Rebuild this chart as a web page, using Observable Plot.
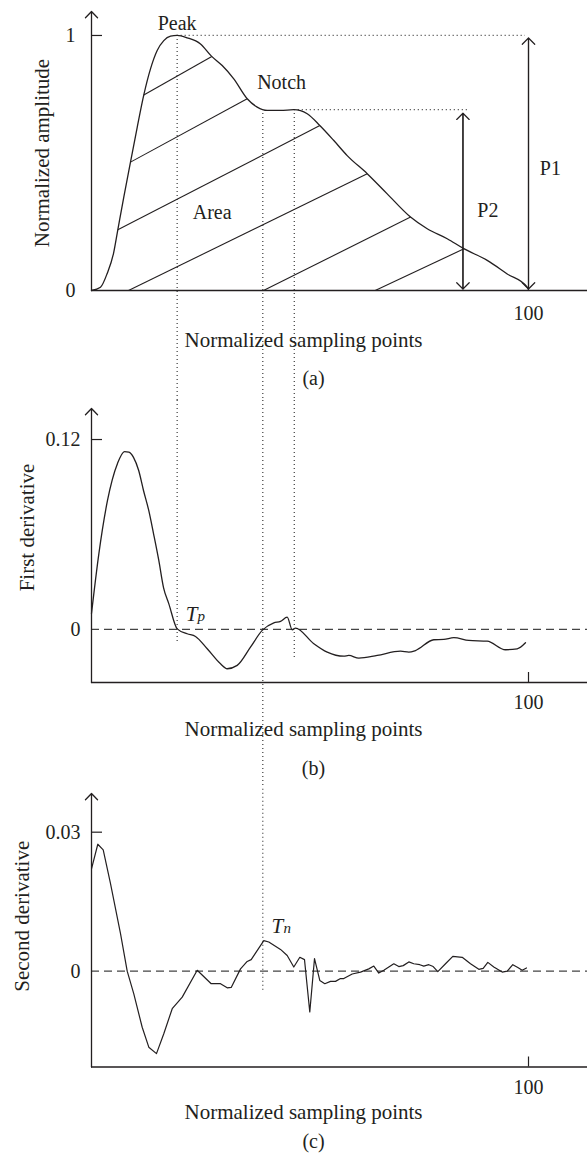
<!DOCTYPE html>
<html>
<head>
<meta charset="utf-8">
<script src="https://cdn.jsdelivr.net/npm/d3@7"></script>
<script src="https://cdn.jsdelivr.net/npm/@observablehq/plot@0.6"></script>
<style>
  html, body { margin: 0; padding: 0; background: #fff; }
  #chart { width: 587px; }
  #chart svg { display: block; overflow: hidden; }
</style>
</head>
<body>
<div id="chart"></div>
<script>
// ---------- data ----------
// Panel (a): normalized pulse waveform
const samplingA = [0, 2.06, 3.59, 5.03, 6.02, 7.39, 8.92, 10.46, 11.97, 13.5, 15.03, 16.54, 18.08, 19.61, 21.9, 24.94, 27.39, 29.91, 32.56, 35.63, 37.92, 40.21, 43.25, 46.29, 49.36, 52.24, 55.45, 58.51, 63.09, 67.67, 73.0, 76.82, 81.4, 85.19, 90.55, 95.13, 99.7, 100];
const amplitudeA = [0, 0.013, 0.067, 0.145, 0.238, 0.366, 0.503, 0.64, 0.767, 0.869, 0.941, 0.98, 0.997, 1.0, 0.991, 0.967, 0.92, 0.882, 0.83, 0.752, 0.719, 0.706, 0.706, 0.709, 0.693, 0.647, 0.588, 0.529, 0.458, 0.379, 0.288, 0.242, 0.203, 0.164, 0.118, 0.065, 0.013, 0.003];

// Panel (b): first derivative
const samplingB = [0, 1.68, 3.66, 5.95, 7.55, 8.54, 9.61, 10.8, 11.9, 13.1, 14.19, 15.4, 16.48, 17.7, 19.61, 21.9, 23.8, 26.48, 29.52, 31.05, 33.34, 36.38, 39.06, 41.72, 43.25, 44.78, 45.93, 46.68, 50.8, 53.94, 57.73, 58.88, 61.17, 65.38, 70.71, 72.61, 74.14, 78.33, 80.62, 82.91, 86.34, 90.55, 94.74, 97.41, 99.31];
const firstDeriv = [0.0101, 0.0478, 0.0815, 0.1049, 0.1124, 0.112, 0.1087, 0.1004, 0.0878, 0.0752, 0.0606, 0.0436, 0.0265, 0.0162, 0.0004, -0.0027, -0.0044, -0.0122, -0.0217, -0.0248, -0.0227, -0.0112, -0.0006, 0.0042, 0.0051, 0.0078, -0.0002, 0.0009, -0.0088, -0.0143, -0.0169, -0.0164, -0.0181, -0.0164, -0.0137, -0.0143, -0.0133, -0.0065, -0.0063, -0.0052, -0.0069, -0.0074, -0.0128, -0.0122, -0.0084];

// Panel (c): second derivative
const samplingC = [0, 1.44, 2.68, 4.35, 6.64, 8.17, 9.68, 11.6, 13.11, 14.87, 16.54, 18.47, 20.76, 24.19, 27.39, 29.52, 31.05, 31.97, 34.1, 35.63, 36.54, 39.43, 40.57, 43.25, 44.78, 46.29, 47.67, 48.74, 49.95, 51.03, 52.24, 53.39, 54.69, 55.84, 56.98, 57.73, 59.66, 61.56, 63.46, 64.6, 65.74, 66.89, 69.18, 70.32, 71.33, 72.61, 73.75, 75.13, 76.04, 77.19, 78.19, 79.25, 81.01, 82.68, 84.83, 86.73, 88.63, 89.63, 90.69, 92.06, 93.98, 95.13, 96.41, 97.55, 98.56, 99.54];
const secondDeriv = [0.0221, 0.0274, 0.0262, 0.0189, 0.0081, 0, -0.0049, -0.0121, -0.0164, -0.0178, -0.0135, -0.0081, -0.0056, 0.0002, -0.0027, -0.0027, -0.0036, -0.0035, 0.0005, 0.0021, 0.0025, 0.0066, 0.0063, 0.0047, 0.0034, 0.0009, 0.003, 0.0025, -0.0088, 0.0027, -0.002, -0.0027, -0.0022, -0.0022, -0.0016, -0.0016, -0.0006, -0.0002, 0.0005, 0.0011, -0.0004, 0.0002, 0.0016, 0.001, 0.0012, 0.002, 0.0016, 0.0014, 0.0011, 0.0014, 0.001, -0.0001, 0.0016, 0.0032, 0.003, 0.0016, 0.0004, 0.0006, 0.0019, 0.0009, -0.0002, 0, 0.0014, 0.0008, 0.0002, 0.0007];

// Hatching of the area under the pulse: intercept with baseline (x) and slope
const hatchIntercepts = [-66.8, -45.15, -20.89, 8.47, 39.36, 64.92];
const hatchSlopes = [0.00973, 0.00931, 0.00884, 0.00838, 0.00855, 0.00805];

// Feature points
const peakX = 19.6, peakY = 1;
const notchX = 39.2, notchEndX = 46.4, notchY = 0.709;
const dropStartA = [1, 0.694, 0.694];           // where the dotted drop lines begin in (a)
const dropEndB = [-0.0088, null, -0.019];        // where they end in (b) (null: continue)
const dropEndC = [-0.0042];                      // notch line ends in (c)
const peakLineEndX = 99.3, notchLineEndX = 86.3;
const p1 = {x: 100, y1: 0.006, y2: 0.99};
const p2 = {x: 85, y1: 0.006, y2: 0.695};

// Axis ticks
const xTicks = [100];
const yTicksA = [0, 1];
const yTicksB = [0, 0.12];
const yTicksC = [0, 0.03];

// Annotations of (a)
const annotationsA = [
  {label: "Peak", x: 19.6, y: 1.046},
  {label: "Notch", x: 43.5, y: 0.817},
  {label: "Area", x: 27.6, y: 0.307},
  {label: "P1", x: 105.0, y: 0.477},
  {label: "P2", x: 90.7, y: 0.314}
];

// ---------- helpers ----------
const ink = "#231f20";
const dotInk = "#3a3a3a";
const serif = "'Liberation Serif', 'Times New Roman', serif";
const W = 587, ML = 91;
const xDomain = [0, 113.5], xTip = 115;

function toRows(xs, ys) { return xs.map((x, i) => ({x, y: ys[i]})); }

function hatchSegment(xs, ys, x0, s) {
  const f = (i) => ys[i] - s * (xs[i] - x0);
  let start = x0 >= 0 ? x0 : null, end = null;
  for (let i = 0; i < xs.length - 1; i++) {
    const a = f(i), b = f(i + 1);
    const t = a / (a - b);
    const xc = xs[i] + t * (xs[i + 1] - xs[i]);
    if (start === null) {
      if (a < 0 && b >= 0) start = xc;
    } else if (a >= 0 && b < 0 && xc > start) { end = xc; break; }
  }
  if (start === null || end === null) return null;
  return {x1: start, y1: s * (start - x0), x2: end, y2: s * (end - x0)};
}

function panel(o) {
  const frameW = W - ML;
  const frameH = o.height - o.marginTop - o.marginBottom;
  const yMin = o.yDomain[0], yMax = o.yDomain[1];
  return Plot.plot({
    width: W, height: o.height,
    marginLeft: ML, marginRight: 0, marginTop: o.marginTop, marginBottom: o.marginBottom,
    x: {domain: xDomain, axis: null},
    y: {domain: o.yDomain, axis: null},
    style: {fontFamily: serif, fontSize: "20px", color: ink, background: "white", overflow: "hidden"},
    marks: [
      ...o.marks,
      // axes with arrows
      Plot.arrow([0], {x1: 0, x2: 0, y1: yMin, y2: yMax, stroke: ink, strokeWidth: 1.3, headLength: 10, headAngle: 88}),
      Plot.arrow([0], {x1: 0, x2: xTip, y1: yMin, y2: yMin, stroke: ink, strokeWidth: 1.3, headLength: 10, headAngle: 88}),
      Plot.tickY(o.yTicks.filter((d) => d !== 0), {y: (d) => d, insetRight: frameW - 11, stroke: ink, strokeWidth: 1.2}),
      Plot.text(o.yTicks, {x: 0, y: (d) => d, text: (d) => String(d), textAnchor: "end", dx: o.tickGap, fontSize: 20, fill: ink}),
      o.xTickMark ? Plot.tickX(xTicks, {x: (d) => d, insetTop: frameH - 10, stroke: ink, strokeWidth: 1.2}) : null,
      Plot.text(xTicks, {x: (d) => d, y: yMin, text: (d) => String(d), dy: o.xTickDy, fontSize: 20, fill: ink}),
      Plot.text([o.yLabel], {frameAnchor: "left", textAnchor: "middle", text: (d) => d, rotate: -90, dx: o.yLabelDx, dy: o.yLabelDy, fontSize: 21, fill: ink}),
      Plot.text(["Normalized sampling points"], {frameAnchor: "bottom", textAnchor: "middle", text: (d) => d, dx: -36, dy: o.xLabelDy, fontSize: 21, fill: ink}),
      Plot.text([o.caption], {frameAnchor: "bottom", textAnchor: "middle", text: (d) => d, dx: -26, dy: o.captionDy, fontSize: 20, fill: ink})
    ]
  });
}

const far = 50; // drop lines run past the panel edge; the SVG clips them
const dot = {stroke: dotInk, strokeWidth: 1.2, strokeDasharray: "1,3"};
const dash = {stroke: "#444", strokeWidth: 1.3, strokeDasharray: "8,5"};
const dropX = [peakX, notchX, notchEndX];

// ---------- panel (a) ----------
const rowsA = toRows(samplingA, amplitudeA);
const hatch = hatchIntercepts.map((x0, i) => hatchSegment(samplingA, amplitudeA, x0, hatchSlopes[i])).filter(Boolean);

const plotA = panel({
  height: 400, marginTop: 11, marginBottom: 110,
  yDomain: [0, 1.094], yTicks: yTicksA, tickGap: -16,
  xTickMark: false, xTickDy: 23,
  yLabel: "Normalized amplitude", yLabelDx: -49, yLabelDy: 2,
  xLabelDy: 56, caption: "(a)", captionDy: 94,
  marks: [
    Plot.ruleX(dropX.map((x, i) => ({x, y1: dropStartA[i]})), {x: "x", y1: "y1", y2: -far, ...dot}),
    Plot.ruleY([{y: peakY, x1: peakX, x2: peakLineEndX}, {y: notchY, x1: notchEndX, x2: notchLineEndX}], {y: "y", x1: "x1", x2: "x2", ...dot}),
    Plot.link(hatch, {x1: "x1", y1: "y1", x2: "x2", y2: "y2", stroke: ink, strokeWidth: 1.1}),
    Plot.line(rowsA, {x: "x", y: "y", curve: "monotone-x", stroke: ink, strokeWidth: 1.3}),
    Plot.arrow([p1, p2], {x1: "x", x2: "x", y1: "y1", y2: "y2", stroke: ink, strokeWidth: 1.2, headLength: 11, headAngle: 90}),
    Plot.arrow([p1, p2], {x1: "x", x2: "x", y1: "y2", y2: "y1", stroke: ink, strokeWidth: 1.2, headLength: 11, headAngle: 90}),
    Plot.text(annotationsA, {x: "x", y: "y", text: "label", fontSize: 20, fill: ink})
  ]
});

// ---------- panel (b) ----------
const rowsB = toRows(samplingB, firstDeriv);
const plotB = panel({
  height: 388, marginTop: 8, marginBottom: 106,
  yDomain: [-0.0335, 0.1396], yTicks: yTicksB, tickGap: -11,
  xTickMark: true, xTickDy: 20,
  yLabel: "First derivative", yLabelDx: -64, yLabelDy: -18,
  xLabelDy: 53, caption: "(b)", captionDy: 92,
  marks: [
    Plot.ruleX(dropX.map((x, i) => ({x, y2: dropEndB[i] === null ? -far : dropEndB[i]})), {x: "x", y1: far, y2: "y2", ...dot}),
    Plot.ruleY([0], {x1: 0, x2: xDomain[1], ...dash}),
    Plot.line(rowsB, {x: "x", y: "y", curve: "monotone-x", stroke: ink, strokeWidth: 1.3}),
    Plot.text([{x: peakX, y: 0}], {x: "x", y: "y", text: () => "T", dx: 14.5, dy: -15.5, fontSize: 21, fontStyle: "italic", fill: ink}),
    Plot.text([{x: peakX, y: 0}], {x: "x", y: "y", text: () => "p", dx: 24, dy: -13, fontSize: 15, fontStyle: "italic", fill: ink})
  ]
});

// ---------- panel (c) ----------
const rowsC = toRows(samplingC, secondDeriv);
const plotC = panel({
  height: 372, marginTop: 5, marginBottom: 93.5,
  yDomain: [-0.02068, 0.03835], yTicks: yTicksC, tickGap: -11,
  xTickMark: true, xTickDy: 21,
  yLabel: "Second derivative", yLabelDx: -69, yLabelDy: -14,
  xLabelDy: 51.5, caption: "(c)", captionDy: 80.5,
  marks: [
    Plot.ruleX(dropEndC.map((y2) => ({x: notchX, y2})), {x: "x", y1: far, y2: "y2", ...dot}),
    Plot.ruleY([0], {x1: 0, x2: xDomain[1], ...dash}),
    Plot.line(rowsC, {x: "x", y: "y", curve: "linear", stroke: ink, strokeWidth: 1.2}),
    Plot.text([{x: notchX, y: 0}], {x: "x", y: "y", text: () => "T", dx: 14.5, dy: -45, fontSize: 21, fontStyle: "italic", fill: ink}),
    Plot.text([{x: notchX, y: 0}], {x: "x", y: "y", text: () => "n", dx: 24.5, dy: -43, fontSize: 15, fontStyle: "italic", fill: ink})
  ]
});

const chart = document.getElementById("chart");
chart.append(plotA, plotB, plotC);
</script>
</body>
</html>
